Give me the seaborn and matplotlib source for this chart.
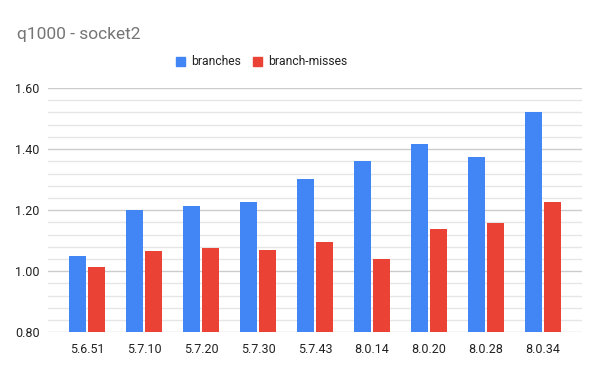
import numpy as np
import pandas as pd
import matplotlib
matplotlib.use("Agg")
import matplotlib.pyplot as plt
import seaborn as sns

# data
versions = ["5.6.51", "5.7.10", "5.7.20", "5.7.30", "5.7.43",
            "8.0.14", "8.0.20", "8.0.28", "8.0.34"]
branches = [1.050, 1.200, 1.214, 1.227, 1.302, 1.361, 1.417, 1.374, 1.521]
branch_misses = [1.013, 1.065, 1.076, 1.070, 1.096, 1.040, 1.138, 1.158, 1.227]
series_names = ["branches", "branch-misses"]
colors = ["#4285F4", "#EA4335"]

df = pd.DataFrame({
    "version": versions * 2,
    "value": branches + branch_misses,
    "series": [series_names[0]] * len(versions) + [series_names[1]] * len(versions),
})

sns.set_style("white")
plt.rcParams['font.family'] = ['Roboto', 'DejaVu Sans']

fig = plt.figure(figsize=(6, 3.71), dpi=100)
ax = fig.add_axes([0.08, 0.1043, 0.89, 0.6585])

sns.barplot(data=df, x="version", y="value", hue="series", hue_order=series_names,
            palette=colors, width=0.65, gap=0.1, ax=ax, legend=False,
            saturation=1, edgecolor="none", zorder=3)

ax.set_ylim(0.8, 1.6)
ax.set_xlim(-0.684, len(versions) - 1 + 0.684)
ax.set_yticks(np.arange(0.8, 1.61, 0.2))
ax.set_yticks(np.arange(0.8, 1.61, 0.04), minor=True)
ax.set_yticklabels([f"{v:.2f}" for v in np.arange(0.8, 1.61, 0.2)])
ax.grid(axis="y", which="major", color="#cccccc", linewidth=1, zorder=0)
ax.grid(axis="y", which="minor", color="#e6e6e6", linewidth=1, zorder=0)
ax.set_axisbelow(True)
for s in ax.spines.values():
    s.set_visible(False)
ax.tick_params(axis="both", which="both", length=0, labelsize=9, colors="#222222")
ax.tick_params(axis="y", pad=6)
ax.tick_params(axis="x", pad=8)
ax.set_xlabel("")
ax.set_ylabel("")

fig.text(0.028, 0.895, "q1000 - socket2", fontsize=12.5, color="#757575",
         ha="left", va="baseline")

handles = [plt.Rectangle((0, 0), 1, 1, color=c) for c in colors]
fig.legend(handles, series_names, loc="center", bbox_to_anchor=(0.436, 0.833),
           ncol=2, frameon=False, fontsize=8.7, handlelength=0.75, handleheight=0.75,
           handletextpad=0.5, columnspacing=1.0, labelcolor="#222222")

fig.savefig("out.png", dpi=100)
